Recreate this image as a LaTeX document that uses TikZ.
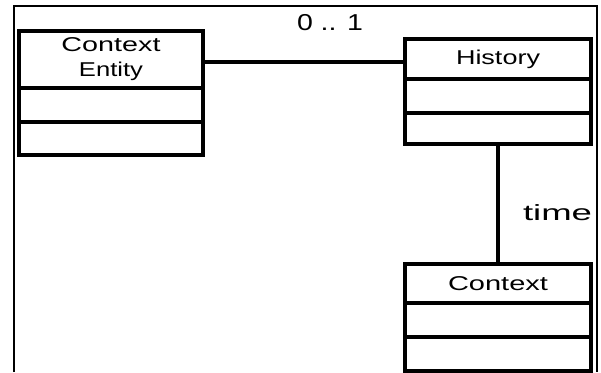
\documentclass[tikz,border=0pt]{standalone}
\usepackage{fontspec}
\setmainfont{Liberation Sans}
\usepackage{graphicx}
\newcommand\wtxt[2]{\resizebox{#1}{\height}{#2}}
\begin{document}
\begin{tikzpicture}[x=1pt,y=-1pt,
  comp/.style={draw, line width=3.4pt, inner sep=0pt, minimum width=#1, fill=white},
  lbl/.style={inner sep=0pt, font=\fontsize{20}{25}\selectfont, align=center},
  conn/.style={line width=3.6pt},
  frm/.style={line width=2.8pt}]
\useasboundingbox (0,0) rectangle (601,372);
% frame
\draw[frm] (14,372) -- (14,6) -- (597,6) -- (597,372);
% Context Entity
\node[comp=184pt, minimum height=57pt] (ceh) at (111,59.5) {};
\node[comp=184pt, minimum height=34pt] (ce1) at (111,105) {};
\node[comp=184pt, minimum height=33pt] (ce2) at (111,138.5) {};
\node[lbl] (cet) at (ceh.center) {\wtxt{99pt}{Context}\\[0pt]\wtxt{64pt}{Entity}};
% History
\node[comp=186pt, minimum height=40pt] (hh) at (498,59) {};
\node[comp=186pt, minimum height=34pt] (h1) at (498,96) {};
\node[comp=186pt, minimum height=31pt] (h2) at (498,128.5) {};
\node[lbl] (ht) at (hh.center) {\wtxt{84pt}{History}};
% Context
\node[comp=186pt, minimum height=39pt] (ch) at (498,283.5) {};
\node[comp=186pt, minimum height=34pt] (c1) at (498,320) {};
\node[comp=186pt, minimum height=34pt] (c2) at (498,354) {};
\node[lbl] (ct) at (ch.center) {\wtxt{100pt}{Context}};
% connectors
\draw[conn] ([yshift=-2.5pt]ceh.east) -- ([yshift=-2.5pt]ceh.east -| hh.west);
\draw[conn] (h2.south) -- (ch.north);
% labels
\node[lbl, font=\fontsize{23}{25}\selectfont] (mult) at (330,23) {\wtxt{66pt}{0 .. 1}};
\node[lbl, font=\fontsize{22}{25}\selectfont] (tl) at (557.5,213) {\wtxt{69pt}{time}};
\end{tikzpicture}
\end{document}
